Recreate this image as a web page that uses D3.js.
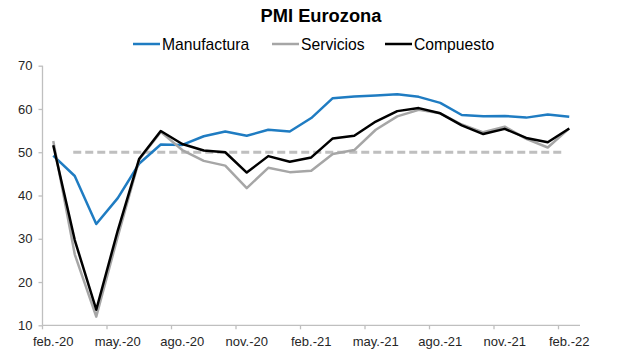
<!DOCTYPE html>
<html>
<head>
<meta charset="utf-8">
<script src="https://cdn.jsdelivr.net/npm/d3@7"></script>
<style>
  body { margin: 0; background: #fff; }
  svg text { font-family: 'Liberation Sans', Arial, sans-serif; }
</style>
</head>
<body>
<svg id="chart" width="617" height="363"></svg>
<script>
let months = ['feb.-20','mar.-20','abr.-20','may.-20','jun.-20','jul.-20','ago.-20','sep.-20','oct.-20','nov.-20','dic.-20','ene.-21',
  'feb.-21','mar.-21','abr.-21','may.-21','jun.-21','jul.-21','ago.-21','sep.-21','oct.-21','nov.-21','dic.-21','ene.-22','feb.-22'];

let manufactura = [49.2, 44.5, 33.4, 39.4, 47.4, 51.8, 51.7, 53.7, 54.8, 53.8, 55.2, 54.8,
  57.9, 62.5, 62.9, 63.1, 63.4, 62.8, 61.4, 58.6, 58.3, 58.4, 58.0, 58.7, 58.2];
let servicios = [52.6, 26.4, 12.0, 30.5, 48.3, 54.7, 50.5, 48.0, 46.9, 41.7, 46.4, 45.4,
  45.7, 49.6, 50.5, 55.2, 58.3, 59.8, 59.0, 56.4, 54.6, 55.9, 53.1, 51.1, 55.5];
let compuesto = [51.6, 29.7, 13.6, 31.9, 48.5, 54.9, 51.9, 50.4, 50.0, 45.3, 49.1, 47.8,
  48.8, 53.2, 53.8, 57.1, 59.5, 60.2, 59.0, 56.2, 54.2, 55.4, 53.3, 52.3, 55.5];

let yTicks = [10, 20, 30, 40, 50, 60, 70];
let labelEvery = 3;
let threshold = 50;

let series = [
  {name: 'Manufactura', values: manufactura, color: '#1f7cc2'},
  {name: 'Servicios', values: servicios, color: '#a6a6a6'},
  {name: 'Compuesto', values: compuesto, color: '#000000'}
];

let margin = {left: 42.5, right: 37, top: 65.7, bottom: 37.7};
let W = 617, H = 363;
let axisColor = '#bfbfbf';

let svg = d3.select('#chart');

let sx = d3.scaleBand().domain(months).range([margin.left, W - margin.right]);
let sy = d3.scaleLinear().domain([10, 70]).range([H - margin.bottom, margin.top]);
let cx = d => sx(d) + sx.bandwidth() / 2;

// title
svg.append('text')
  .attr('x', 321).attr('y', 22)
  .attr('text-anchor', 'middle')
  .style('font-size', '18.3px').style('font-weight', 'bold')
  .text('PMI Eurozona');

// legend
let legendX = [133, 272, 385];
let lg = svg.append('g').selectAll('g').data(series).enter().append('g')
  .attr('transform', (d, i) => `translate(${legendX[i]},44)`);
lg.append('line').attr('x1', 0).attr('x2', 27)
  .attr('stroke', d => d.color).attr('stroke-width', 2.5);
lg.append('text').attr('x', 29).attr('y', 6)
  .style('font-size', '15.7px').attr('fill', '#000')
  .text(d => d.name);

// y axis
let yAxis = d3.axisLeft(sy).tickValues(yTicks).tickSize(4).tickPadding(6);
let gy = svg.append('g').attr('transform', `translate(${margin.left},0)`).call(yAxis);
gy.selectAll('.tick line').attr('stroke', axisColor).attr('stroke-width', 1.3);
gy.select('.domain').attr('d', `M0,${sy(70)}V${sy(10)}`)
  .attr('stroke', axisColor).attr('stroke-width', 1.3);
gy.selectAll('.tick text').style('font-size', '13px').attr('fill', '#262626');

// x axis: ticks at category boundaries every 3 months
let boundaries = d3.range(0, months.length, labelEvery).map(i => sx(months[i]));
let gx = svg.append('g');
gx.append('line')
  .attr('x1', margin.left).attr('x2', W - margin.right)
  .attr('y1', sy(10)).attr('y2', sy(10))
  .attr('stroke', axisColor).attr('stroke-width', 1.3);
gx.selectAll('.tk').data(boundaries).enter().append('line')
  .attr('x1', d => d).attr('x2', d => d)
  .attr('y1', sy(10)).attr('y2', sy(10) + 4)
  .attr('stroke', axisColor).attr('stroke-width', 1.3);
gx.selectAll('text').data(months.filter((m, i) => i % labelEvery === 0)).enter().append('text')
  .attr('x', d => cx(d)).attr('y', sy(10) + 21)
  .attr('text-anchor', 'middle')
  .style('font-size', '13px').attr('fill', '#262626')
  .text(d => d);

// threshold dashed line
svg.append('line')
  .attr('x1', cx(months[1]) - 1.5).attr('x2', cx(months[months.length - 1]) - 4)
  .attr('y1', sy(threshold)).attr('y2', sy(threshold))
  .attr('stroke', axisColor).attr('stroke-width', 3)
  .attr('stroke-dasharray', '8,4');

// series (drawn in order, compuesto on top)
let line = d3.line().x((d, i) => cx(months[i])).y(d => sy(d));
svg.append('g').selectAll('path').data(series).enter().append('path')
  .attr('d', d => line(d.values))
  .attr('fill', 'none')
  .attr('stroke', d => d.color)
  .attr('stroke-width', 2.5)
  .attr('stroke-linejoin', 'round');
</script>
</body>
</html>
